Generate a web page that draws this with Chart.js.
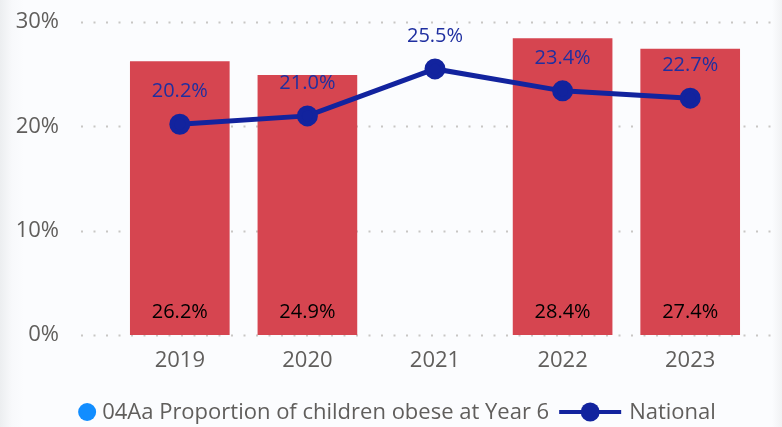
<!DOCTYPE html>
<html>
<head>
<meta charset="utf-8">
<script src="https://cdn.jsdelivr.net/npm/chart.js@4.4.1/dist/chart.umd.min.js"></script>
<style>
  html, body { margin: 0; padding: 0; background: #fbfcfe; overflow: hidden; }
  #wrap {
    width: 782px; height: 427px; position: relative;
    background: linear-gradient(to right, #eceef0 0px, #f8f9fb 12px, #fbfcfe 24px, #fbfcfe 772px, #f1f2f4 782px);
  }
</style>
</head>
<body>
<div id="wrap"><canvas id="chart1" width="782" height="427"></canvas></div>
<script>
const years = ['2019', '2020', '2021', '2022', '2023'];
const localValues = [26.2, 24.9, null, 28.4, 27.4];
const nationalValues = [20.2, 21.0, 25.5, 23.4, 22.7];
const yTicks = [0, 10, 20, 30];
const localLabel = '04Aa Proportion of children obese at Year 6';
const nationalLabel = 'National';

const barColour = '#d64550';
const lineColour = '#12239e';
const legendDotColour = '#118dff';
const textGrey = '#605e5c';
const fontFamily = "'Open Sans', 'Noto Sans', sans-serif";

const dottedGrid = {
    id: 'dottedGrid',
    beforeDatasetsDraw(chart) {
        const ctx = chart.ctx;
        const y = chart.scales.y;
        ctx.save();
        ctx.strokeStyle = '#c8c6c4';
        ctx.lineWidth = 2;
        ctx.setLineDash([2, 10.5]);
        yTicks.forEach(v => {
            const py = Math.round(y.getPixelForValue(v)) + 0.5;
            ctx.beginPath(); ctx.moveTo(81, py); ctx.lineTo(772, py); ctx.stroke();
        })
        ctx.restore();
    }
};

const valueLabels = {
    id: 'valueLabels',
    afterDatasetsDraw(chart) {
        const ctx = chart.ctx;
        ctx.save();
        ctx.font = '20px ' + fontFamily;
        ctx.textAlign = 'center';
        ctx.textBaseline = 'middle';
        const barMeta = chart.getDatasetMeta(0);
        barMeta.data.forEach((el, i) => {
            if (localValues[i] == null) return;
            ctx.fillStyle = '#000000';
            ctx.fillText(localValues[i].toFixed(1) + '%', el.x, el.base - 23);
        })
        const lineMeta = chart.getDatasetMeta(1);
        lineMeta.data.forEach((el, i) => {
            ctx.fillStyle = '#1f2fa0';
            ctx.fillText(nationalValues[i].toFixed(1) + '%', el.x, el.y - 33);
        })
        ctx.restore();
    }
};

// bottom legend: dot for the bars, line with a dot for National
const bottomLegend = {
    id: 'bottomLegend',
    afterDraw(chart) {
        const ctx = chart.ctx;
        ctx.save();
        ctx.font = '22px ' + fontFamily;
        ctx.textBaseline = 'middle';
        const w1 = ctx.measureText(localLabel).width;
        const w2 = ctx.measureText(nationalLabel).width;
        const total = 18 + 6 + w1 + 10 + 62 + 8 + w2;
        let x = chart.width / 2 + 6 - total / 2;
        const y = 412;
        ctx.fillStyle = legendDotColour;
        ctx.beginPath(); ctx.arc(x + 9, y, 9, 0, Math.PI * 2); ctx.fill();
        x += 24;
        ctx.fillStyle = textGrey;
        ctx.fillText(localLabel, x, y + 1);
        x += w1 + 10;
        ctx.strokeStyle = lineColour;
        ctx.lineWidth = 4;
        ctx.beginPath(); ctx.moveTo(x, y); ctx.lineTo(x + 62, y); ctx.stroke();
        ctx.fillStyle = lineColour;
        ctx.beginPath(); ctx.arc(x + 31, y, 9.5, 0, Math.PI * 2); ctx.fill();
        x += 70;
        ctx.fillStyle = textGrey;
        ctx.fillText(nationalLabel, x, y + 1);
        ctx.restore();
    }
};

new Chart('chart1', {
    data: {
        labels: years,
        datasets: [
            {
                type: 'bar',
                label: localLabel,
                data: localValues,
                backgroundColor: barColour,
                barThickness: 99,
                order: 2
            },
            {
                type: 'line',
                label: nationalLabel,
                data: nationalValues,
                borderColor: lineColour,
                backgroundColor: lineColour,
                borderWidth: 5,
                pointRadius: 8,
                pointHoverRadius: 8,
                tension: 0,
                order: 1
            }
        ]
    },
    options: {
        responsive: false,
        animation: false,
        devicePixelRatio: 1,
        layout: { padding: { top: 22, right: 28, left: 0, bottom: 52 } },
        scales: {
            x: {
                grid: { display: false },
                border: { display: false },
                ticks: { color: textGrey, font: { family: fontFamily, size: 22 }, padding: 5, maxRotation: 0 },
                afterFit(scale) { scale.height = 40 }
            },
            y: {
                min: 0,
                max: 30,
                grid: { display: false },
                border: { display: false },
                afterBuildTicks(scale) { scale.ticks = yTicks.map(v => ({ value: v })) },
                ticks: {
                    color: textGrey,
                    font: { family: fontFamily, size: 22 },
                    padding: 49,
                    callback: v => v + '%'
                },
                afterFit(scale) {
                    scale.width = 116;
                    scale.paddingTop = 0;
                    scale.paddingBottom = 0;
                }
            }
        },
        plugins: {
            tooltip: { enabled: false },
            legend: { display: false }
        }
    },
    plugins: [dottedGrid, valueLabels, bottomLegend]
});
</script>
</body>
</html>
